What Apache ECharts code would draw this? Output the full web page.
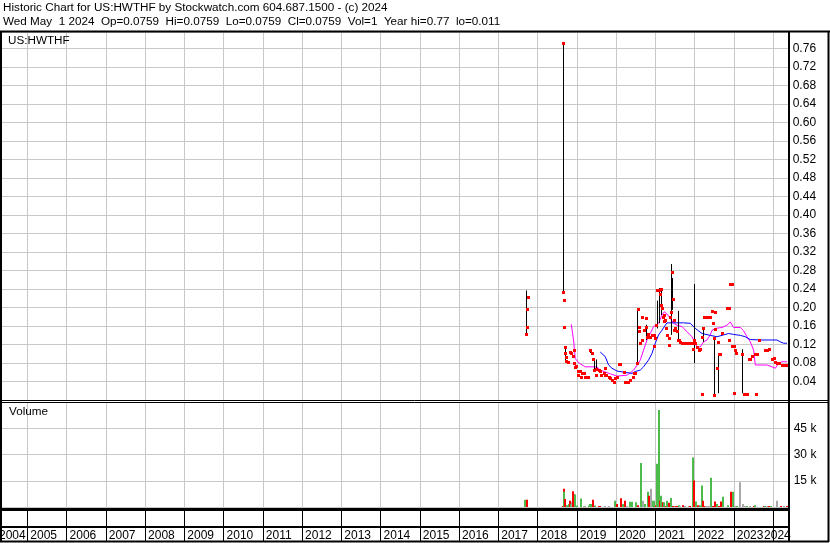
<!DOCTYPE html>
<html><head><meta charset="utf-8">
<script src="https://cdn.jsdelivr.net/npm/echarts@6/dist/echarts.min.js"></script>
<style>html,body{margin:0;padding:0;background:#fff;}#c{width:830px;height:543px;}</style>
</head><body><div id="c"></div>
<script>
// ---------- data (decimal year, price / volume) ----------
const titleLine1 = 'Historic Chart for US:HWTHF by Stockwatch.com 604.687.1500 - (c) 2024';
const titleLine2 = 'Wed May  1 2024  Op=0.0759  Hi=0.0759  Lo=0.0759  Cl=0.0759  Vol=1  Year hi=0.77  lo=0.011';
const symbolLabel = 'US:HWTHF';
const volumeLabel = 'Volume';
const yearLabels = ['2004','2005','2006','2007','2008','2009','2010','2011','2012','2013','2014','2015','2016','2017','2018','2019','2020','2021','2022','2023','2024'];

// high-low bars: [date, low, high]
const priceBars = [
 [2017.712,0.141,0.237],[2018.637,0.234,0.771],[2018.660,0.324,0.719],[2018.693,0.085,0.114],
 [2019.343,0.102,0.110],[2019.427,0.065,0.090],[2019.489,0.065,0.088],[2020.534,0.080,0.198],
 [2020.763,0.130,0.163],[2021.040,0.155,0.215],[2021.090,0.166,0.242],[2021.150,0.184,0.238],
 [2021.408,0.141,0.294],[2021.434,0.195,0.264],[2021.569,0.130,0.193],[2021.977,0.080,0.251],
 [2022.206,0.126,0.157],[2022.486,0.011,0.134],[2022.588,0.015,0.101],[2023.210,0.015,0.110]
];

// closes: [date, close]
const closes = [
 [2017.712,0.143],[2017.725,0.197],[2017.737,0.157],[2017.745,0.223],
 [2018.637,0.771],[2018.655,0.234],[2018.663,0.217],[2018.670,0.157],[2018.693,0.114],[2018.706,0.103],
 [2018.714,0.094],[2018.724,0.085],[2018.765,0.082],[2018.834,0.104],[2018.859,0.101],[2018.892,0.095],
 [2018.918,0.108],[2018.936,0.081],[2018.943,0.072],[2018.986,0.074],
 [2019.020,0.062],[2019.037,0.054],[2019.088,0.062],[2019.114,0.051],[2019.132,0.058],[2019.173,0.059],
 [2019.216,0.051],[2019.285,0.051],[2019.343,0.108],[2019.387,0.103],[2019.412,0.090],[2019.427,0.065],
 [2019.489,0.067],[2019.496,0.055],[2019.555,0.065],[2019.598,0.062],[2019.624,0.054],[2019.682,0.058],
 [2019.708,0.054],[2019.726,0.069],[2019.751,0.054],[2019.810,0.051],[2019.853,0.047],[2019.897,0.044],
 [2019.937,0.040],[2019.981,0.047],
 [2020.024,0.051],[2020.065,0.078],[2020.108,0.078],[2020.192,0.061],[2020.236,0.040],[2020.304,0.040],
 [2020.363,0.044],[2020.422,0.051],[2020.447,0.059],[2020.490,0.058],[2020.534,0.080],[2020.559,0.197],
 [2020.575,0.159],[2020.592,0.150],[2020.618,0.123],[2020.661,0.130],[2020.669,0.180],[2020.702,0.151],
 [2020.763,0.157],[2020.771,0.177],[2020.789,0.137],[2020.822,0.144],[2020.873,0.137],[2020.924,0.140],
 [2020.957,0.116],[2020.975,0.140],
 [2021.000,0.134],[2021.026,0.162],[2021.033,0.238],[2021.059,0.238],[2021.102,0.238],[2021.128,0.230],
 [2021.135,0.205],[2021.146,0.241],[2021.171,0.200],[2021.186,0.180],[2021.212,0.184],[2021.230,0.170],
 [2021.255,0.173],[2021.263,0.155],[2021.299,0.141],[2021.339,0.134],[2021.344,0.119],[2021.383,0.180],
 [2021.408,0.191],[2021.434,0.277],[2021.441,0.219],[2021.467,0.173],[2021.485,0.151],[2021.510,0.155],
 [2021.553,0.150],[2021.569,0.130],[2021.594,0.130],[2021.638,0.126],[2021.681,0.124],[2021.722,0.123],
 [2021.808,0.124],[2021.849,0.124],[2021.892,0.124],[2021.936,0.124],[2021.961,0.110],[2021.977,0.130],
 [2022.020,0.124],[2022.063,0.115],[2022.104,0.108],[2022.130,0.110],[2022.191,0.137],[2022.195,0.013],
 [2022.206,0.155],[2022.231,0.180],[2022.275,0.180],[2022.318,0.180],[2022.359,0.180],[2022.402,0.180],
 [2022.446,0.193],[2022.470,0.166],[2022.486,0.134],[2022.504,0.011],[2022.522,0.190],[2022.530,0.153],
 [2022.573,0.069],[2022.588,0.126],[2022.614,0.100],[2022.657,0.100],[2022.700,0.146],[2022.828,0.199],
 [2022.869,0.199],[2022.875,0.130],[2022.894,0.250],[2022.955,0.250],[2022.960,0.117],[2022.996,0.117],
 [2022.999,0.015],
 [2023.040,0.108],[2023.045,0.101],[2023.210,0.100],[2023.251,0.013],[2023.338,0.013],[2023.379,0.090],
 [2023.422,0.090],[2023.465,0.095],[2023.549,0.100],[2023.555,0.013],[2023.593,0.100],[2023.633,0.131],
 [2023.804,0.108],[2023.848,0.108],[2023.888,0.110],[2023.975,0.090],
 [2024.016,0.092],[2024.059,0.083],[2024.102,0.081],[2024.143,0.081],[2024.230,0.076],[2024.314,0.076],
 [2024.357,0.076],[2024.391,0.0759]
];

// short moving average (magenta)
const maShort = [
 [2018.859,0.164],[2018.918,0.130],[2018.961,0.090],[2019.045,0.081],[2019.216,0.072],[2019.514,0.072],
 [2019.598,0.065],[2019.853,0.057],[2020.024,0.052],[2020.279,0.054],[2020.363,0.059],[2020.447,0.065],
 [2020.575,0.080],[2020.618,0.087],[2020.702,0.108],[2020.789,0.130],[2020.873,0.144],[2020.957,0.159],
 [2021.084,0.166],[2021.171,0.184],[2021.230,0.191],[2021.299,0.186],[2021.383,0.177],[2021.467,0.166],
 [2021.553,0.162],[2021.681,0.159],[2021.808,0.148],[2021.936,0.137],[2021.977,0.130],[2022.063,0.115],
 [2022.147,0.115],[2022.231,0.126],[2022.318,0.130],[2022.402,0.141],[2022.446,0.151],[2022.530,0.155],
 [2022.700,0.157],[2022.828,0.162],[2022.912,0.169],[2022.955,0.173],[2022.996,0.157],[2023.167,0.157],
 [2023.251,0.150],[2023.338,0.137],[2023.422,0.126],[2023.507,0.108],[2023.549,0.076],[2023.848,0.076],
 [2023.975,0.072],[2024.059,0.069],[2024.143,0.080],[2024.230,0.083],[2024.357,0.083]
];

// long moving average (blue)
const maLong = [
 [2019.598,0.104],[2019.726,0.094],[2019.810,0.076],[2019.897,0.069],[2020.024,0.063],[2020.236,0.060],
 [2020.407,0.058],[2020.490,0.062],[2020.618,0.065],[2020.702,0.072],[2020.830,0.087],[2020.917,0.101],
 [2021.000,0.123],[2021.084,0.141],[2021.171,0.151],[2021.255,0.162],[2021.299,0.167],[2021.722,0.167],
 [2021.892,0.166],[2022.020,0.155],[2022.191,0.144],[2022.231,0.140],[2022.402,0.140],[2022.573,0.137],
 [2022.700,0.140],[2022.869,0.144],[2022.996,0.142],[2023.167,0.140],[2023.294,0.137],[2023.422,0.131],
 [2023.677,0.130],[2024.102,0.130],[2024.186,0.126],[2024.271,0.123],[2024.357,0.123]
];

// volume: [date, shares, direction] u=up(green) d=down(red) n=unchanged(grey)
const volumes = [
 [2017.686,4200,'u'],[2017.737,4200,'d'],
 [2018.637,300,'d'],[2018.663,10400,'d'],[2018.681,8800,'u'],[2018.706,4600,'d'],[2018.749,1000,'u'],
 [2018.790,1700,'u'],[2018.834,3600,'d'],[2018.851,1700,'u'],[2018.877,3000,'n'],[2018.902,9000,'d'],
 [2018.928,7500,'d'],[2018.961,7100,'u'],[2019.004,800,'u'],
 [2019.114,4800,'u'],[2019.173,300,'n'],[2019.216,300,'n'],[2019.300,800,'u'],[2019.343,1700,'u'],
 [2019.369,1700,'u'],[2019.412,4200,'d'],[2019.453,800,'u'],[2019.555,500,'d'],[2019.598,300,'d'],
 [2019.726,300,'n'],[2019.810,600,'n'],[2019.963,3600,'u'],
 [2020.024,1700,'d'],[2020.134,5000,'d'],[2020.167,1700,'u'],[2020.236,3600,'d'],[2020.279,600,'n'],
 [2020.363,3000,'u'],[2020.407,3000,'u'],[2020.516,2700,'u'],[2020.559,1000,'d'],[2020.643,25200,'u'],
 [2020.686,3600,'n'],[2020.727,1700,'u'],[2020.814,8800,'u'],[2020.847,6500,'d'],[2020.898,10500,'n'],
 [2020.942,3600,'u'],[2020.975,3600,'u'],
 [2021.008,1000,'d'],[2021.044,24800,'u'],[2021.084,23200,'d'],[2021.102,55500,'u'],[2021.128,3600,'d'],
 [2021.146,6500,'u'],[2021.186,2700,'d'],[2021.212,1000,'d'],[2021.230,2700,'u'],[2021.281,300,'d'],
 [2021.299,3600,'u'],[2021.339,2400,'d'],[2021.383,2000,'d'],[2021.408,5200,'u'],[2021.451,300,'d'],
 [2021.492,300,'n'],[2021.536,300,'d'],[2021.553,600,'d'],[2021.594,1000,'u'],[2021.638,200,'n'],
 [2021.706,1000,'d'],[2021.765,200,'n'],[2021.849,200,'n'],[2021.892,200,'d'],[2021.961,28300,'u'],
 [2021.994,15200,'d'],
 [2022.045,3200,'u'],[2022.096,1000,'d'],[2022.130,1000,'u'],[2022.191,12300,'u'],[2022.216,3600,'d'],
 [2022.242,300,'d'],[2022.293,200,'n'],[2022.334,200,'n'],[2022.377,200,'n'],[2022.428,16700,'u'],
 [2022.471,200,'d'],[2022.522,3200,'d'],[2022.573,1700,'u'],[2022.614,200,'d'],[2022.675,3200,'d'],
 [2022.726,5900,'u'],[2022.843,1000,'u'],[2022.938,8800,'d'],[2022.981,8800,'u'],
 [2023.040,200,'n'],[2023.083,200,'u'],[2023.167,14200,'n'],[2023.236,1700,'n'],[2023.294,200,'n'],
 [2023.338,200,'u'],[2023.422,200,'n'],[2023.507,600,'d'],[2023.533,1000,'u'],[2023.762,600,'d'],
 [2023.804,200,'u'],[2023.848,200,'n'],[2023.888,600,'d'],[2023.949,600,'u'],
 [2024.102,3600,'n'],[2024.204,200,'d'],[2024.271,200,'n'],[2024.357,200,'d']
];

// ---------- layout ----------
const X_MIN = 2004, X_MAX = 2024.40;
const GRID_LEFT = -11.93, GRID_RIGHT = 41.3;
const GRID_W = 830 - GRID_LEFT - GRID_RIGHT;
const PX_PER_YEAR = GRID_W / (X_MAX - X_MIN);
const PRICE_MAX = 0.7951, VOL_MAX = 60000;
const FONT = 'Liberation Sans, Arial, sans-serif';
const VOL_COLORS = {u:'#4cbb4c', d:'#ff0000', n:'#a8a8a8'};

// label anchor positions (left-aligned just after each year boundary, kept on screen)
const LABEL_W = 24.6;
const LABEL_GAP = 3.0;
const lowBound = X_MIN + (-1 - GRID_LEFT) / PX_PER_YEAR;
const highBound = X_MAX - LABEL_W / PX_PER_YEAR;
const yearLabelPos = yearLabels.map(y => Math.min(highBound, Math.max(lowBound, (+y) + LABEL_GAP / PX_PER_YEAR)));

const chart = echarts.init(document.getElementById('c'), null, {renderer:'canvas'});
const txt = {fontSize:11.7, fontWeight:'normal', fontFamily:FONT, color:'#000'};

function gridBox(top, height) {
  return {left:GRID_LEFT, width:GRID_W, top, height, outerBoundsMode:'none', containLabel:false};
}
function xAxis(gridIndex, extra) {
  return Object.assign({
    type:'value', gridIndex, min:X_MIN, max:X_MAX, interval:1,
    axisLine:{show:false}, axisTick:{show:false}, axisLabel:{show:false},
    splitLine:{show:true, lineStyle:{color:'#c8c8c8', width:1}}
  }, extra || {});
}
function hLine(y, x1, x2, w) {
  return {type:'line', silent:true, z:100, shape:{x1, y1:y, x2, y2:y}, style:{stroke:'#000', lineWidth:w}};
}
function vLine(x, y1, y2, w) {
  return {type:'line', silent:true, z:100, shape:{x1:x, y1, x2:x, y2}, style:{stroke:'#000', lineWidth:w}};
}

const option = {
  animation:false,
  backgroundColor:'#fff',
  title:[
    {text:titleLine1, left:3, top:2, padding:0, textStyle:txt},
    {text:titleLine2, left:3, top:16, padding:0, textStyle:txt},
    {text:symbolLabel, left:8, top:35, padding:0, textStyle:txt},
    {text:volumeLabel, left:9, top:406, padding:0, textStyle:txt}
  ],
  grid:[
    gridBox(32, 368.2),
    gridBox(402.2, 104.8),
    gridBox(509.5, 17.5),
    gridBox(527, 14.5)
  ],
  xAxis:[
    xAxis(0),
    xAxis(1),
    xAxis(2, {
      splitLine:{show:true, lineStyle:{color:'#000', width:1}},
      axisLabel:{show:true, customValues:yearLabelPos, align:'left', margin:3, hideOverlap:false,
        formatter:(v)=>yearLabels[Math.round(v)-2004] || '',
        fontSize:12, fontFamily:FONT, color:'#000'}
    }),
    xAxis(3, {splitLine:{show:true, lineStyle:{color:'#000', width:1}}})
  ],
  yAxis:[
    {type:'value', gridIndex:0, min:0, max:PRICE_MAX, interval:0.04, position:'right',
     axisLine:{show:false}, axisTick:{show:false},
     axisLabel:{margin:4, fontSize:12, fontFamily:FONT, color:'#000',
       formatter:(v)=> (v>0.02 && v<0.78) ? v.toFixed(2) : ''},
     splitLine:{show:true, lineStyle:{color:'#c8c8c8', width:1}}},
    {type:'value', gridIndex:1, min:0, max:VOL_MAX, interval:15000, position:'right',
     axisLine:{show:false}, axisTick:{show:false},
     axisLabel:{margin:5, fontSize:12, fontFamily:FONT, color:'#000',
       formatter:(v)=> (v>0 && v<VOL_MAX) ? (v/1000)+' k' : ''},
     splitLine:{show:true, lineStyle:{color:'#c8c8c8', width:1}}},
    {type:'value', gridIndex:2, min:0, max:1, show:false},
    {type:'value', gridIndex:3, min:0, max:1, show:false}
  ],
  series:[
    {type:'line', xAxisIndex:0, yAxisIndex:0, data:maShort, showSymbol:false, symbol:'none',
     lineStyle:{color:'#ff00ff', width:1}, z:2},
    {type:'line', xAxisIndex:0, yAxisIndex:0, data:maLong, showSymbol:false, symbol:'none',
     lineStyle:{color:'#0000ff', width:1}, z:2},
    {type:'custom', xAxisIndex:0, yAxisIndex:0, data:priceBars, z:3,
     renderItem:(params, api)=>{
       const lo = api.coord([api.value(0), api.value(1)]);
       const hi = api.coord([api.value(0), api.value(2)]);
       const x = Math.round(lo[0]) + 0.5;
       return {type:'line', shape:{x1:x, y1:lo[1], x2:x, y2:hi[1]}, style:{stroke:'#000', lineWidth:1}};
     }},
    {type:'custom', xAxisIndex:0, yAxisIndex:0, data:closes, z:4,
     renderItem:(params, api)=>{
       const p = api.coord([api.value(0), api.value(1)]);
       return {type:'rect', shape:{x:Math.round(p[0])-1, y:Math.round(p[1])-1, width:3, height:3}, style:{fill:'#ff0000'}};
     }},
    {type:'custom', xAxisIndex:1, yAxisIndex:1, z:3,
     data:volumes.map(v=>[v[0], v[1]]),
     renderItem:(params, api)=>{
       const top = api.coord([api.value(0), api.value(1)]);
       const base = api.coord([api.value(0), 0]);
       const dir = volumes[params.dataIndex][2];
       const h = Math.max(1, base[1]-top[1]);
       return {type:'rect', shape:{x:Math.round(top[0])-1, y:base[1]-h, width:2, height:h}, style:{fill:VOL_COLORS[dir]}};
     }}
  ],
  graphic:[
    hLine(31.5, 0, 830, 2),
    vLine(1, 31, 542, 2),
    vLine(789, 31, 542, 2),
    vLine(828.5, 31, 542, 2),
    hLine(400.5, 0, 829, 1),
    hLine(402.5, 0, 829, 1),
    hLine(509.5, 0, 789, 3),
    hLine(527, 0, 789, 2),
    hLine(541.5, 0, 829, 2)
  ]
};
chart.setOption(option);
</script></body></html>
